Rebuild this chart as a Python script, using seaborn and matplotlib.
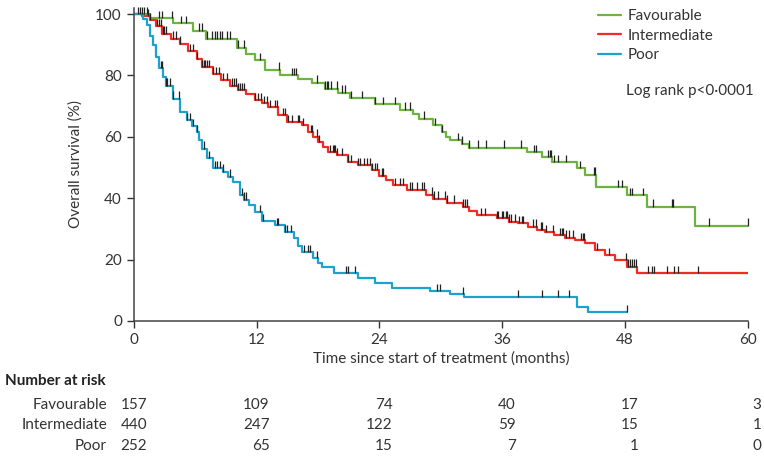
import numpy as np
import pandas as pd
import seaborn as sns
import matplotlib.pyplot as plt

# Kaplan-Meier step points (months, % surviving)
fav_time = [0, 1.6, 3.8, 5.8, 7.1, 10.1, 11.0, 11.8, 12.8, 14.3, 16.0, 17.4, 18.7, 20.0,
            21.1, 23.6, 26.0, 27.3, 27.9, 29.2, 30.1, 30.5, 30.9, 32.1, 32.8, 38.4, 39.9,
            40.9, 43.3, 44.1, 45.2, 48.2, 50.1, 54.8, 60]
fav_surv = [100, 98.7, 97.1, 94.6, 92, 89, 87, 85, 81.9, 80, 78.7, 77.6, 75.7, 74.4,
            72.6, 70.6, 68.8, 67.5, 65.9, 63.7, 61.5, 59.8, 58.9, 57.8, 56.5, 55.1, 53.4,
            51.8, 49.7, 47.7, 43.5, 41, 37.2, 31, 31]

int_time = [0, 0.8, 1.6, 2.2, 2.8, 3.6, 4.5, 5.3, 6.2, 6.7, 7.7, 8.5, 9.4, 10.2, 11.0,
            11.8, 12.5, 13.1, 14.1, 15.0, 16.4, 17.0, 17.5, 18.0, 18.5, 19.0, 19.9, 20.9,
            21.9, 23.3, 24.0, 24.6, 25.3, 26.7, 28.6, 29.2, 30.6, 32.2, 32.8, 33.5, 35.5,
            36.7, 37.5, 38.5, 39.4, 40.2, 41.1, 42.1, 43.1, 44.1, 45.1, 46.0, 47.0, 48.2,
            49.2, 60]
int_surv = [100, 99.3, 98, 96, 93.6, 92, 90.3, 88, 85.4, 82.7, 80.5, 78.5, 76.7, 75.3, 74,
            71.9, 71, 69.7, 67, 64.8, 63.7, 61.6, 60, 58.3, 56.8, 55.1, 54, 51.8,
            50.7, 49.1, 47.3, 45.8, 44.2, 42.8, 41.2, 39.9, 38.6, 37.2, 35.8, 34.5, 33.4,
            32.3, 31.8, 30.7, 29.8, 29, 28, 27.1, 26.3, 25.3, 23.1, 21.5, 19.8, 17.7,
            15.5, 15.5]

poor_time = [0, 0.9, 1.3, 1.6, 1.9, 2.2, 2.5, 2.9, 3.2, 3.8, 4.5, 5.2, 5.7, 6.2, 6.4, 6.7,
             7.2, 7.7, 8.7, 9.2, 9.7, 10.4, 10.8, 11.3, 11.8, 12.5, 13.8, 14.8, 15.7, 16.0,
             16.4, 17.5, 18.0, 18.4, 19.6, 21.9, 23.6, 25.2, 28.9, 30.9, 32.3, 43.3, 44.4,
             48.2]
poor_surv = [100, 98.5, 96.4, 93, 89.9, 86, 82.3, 79.5, 76.7, 72.4, 68.1, 65.4, 63.5, 61.6,
             59, 56.2, 53, 49.7, 48.6, 47, 45.3, 41, 39.5, 37.7, 35.5, 32.5, 31.2, 29, 26.9,
             24.5, 22.5, 20.4, 19, 17.7, 15.5, 13.9, 12.3, 10.6, 9.8, 8.7, 7.7, 4.7, 2.8,
             2.8]

# censoring times (months)
fav_cens = [0.4, 0.6, 0.8, 1.0, 1.3, 2.5, 2.8, 3.7, 4.6, 5.1, 6.4, 6.7, 7.2, 7.6, 7.9,
            8.1, 8.4, 8.6, 9.1, 9.4, 10.2, 10.8, 12.3, 14.2, 15.5, 15.7, 15.9, 17.9, 18.7,
            18.9, 19.0, 19.3, 19.9, 20.3, 20.6, 21.2, 22.3, 23.6, 24.4, 25.5, 26.5, 27.0,
            28.4, 29.4, 30.1, 31.7, 32.1, 32.8, 33.6, 34.4, 36.2, 37.8, 39.1, 39.3, 40.5,
            40.7, 40.8, 41.1, 41.4, 42.2, 43.6, 45.0, 45.1, 47.3, 47.7, 48.5, 48.7, 49.7,
            50.7, 52.6, 52.7, 56.2, 60]
int_cens = [1.4, 1.6, 2.3, 2.5, 2.7, 2.9, 3.0, 3.2, 3.8, 4.1, 4.5, 5.5, 5.8, 6.2, 6.7,
            6.9, 7.0, 7.2, 7.4, 7.7, 8.0, 8.3, 8.7, 9.1, 9.6, 9.8, 10.0, 10.2, 10.4, 10.6,
            10.8, 11.8, 12.1, 12.4, 12.7, 13.0, 13.3, 13.8, 14.0, 14.6, 14.8, 15.1, 15.5,
            16.0, 16.1, 16.5, 17.3, 17.4, 17.9, 18.1, 19.2, 19.5, 19.6, 19.7, 19.9, 20.3,
            20.9, 21.2, 21.9, 22.1, 22.5, 22.8, 23.1, 23.3, 23.6, 23.8, 24.3, 24.4, 25.5,
            26.0, 26.3, 27.0, 27.2, 27.7, 28.2, 28.4, 29.1, 29.3, 29.7, 30.4, 30.6, 31.3,
            32.2, 32.4, 32.6, 33.9, 34.3, 35.5, 35.6, 36.0, 36.1, 36.4, 36.5, 36.7, 36.9,
            37.2, 37.6, 37.9, 38.0, 39.0, 39.3, 39.8, 39.9, 40.3, 41.0, 41.6, 41.8, 41.9,
            42.2, 42.5, 42.9, 43.7, 43.9, 44.0, 45.3, 46.4, 48.1, 48.3, 48.5, 48.7, 48.9,
            49.1, 50.2, 50.6, 50.8, 52.1, 52.8, 53.2, 55.1]
poor_cens = [2.7, 2.8, 3.2, 3.3, 3.5, 3.8, 4.4, 5.2, 5.5, 5.8, 6.2, 6.9, 7.4, 7.9, 8.1,
             8.4, 8.7, 9.4, 10.6, 10.8, 11.0, 12.3, 12.6, 14.0, 14.1, 14.8, 15.0, 15.4,
             16.6, 17.0, 17.2, 17.9, 20.7, 20.9, 21.6, 29.6, 29.9, 32.2, 37.5, 39.9, 41.4,
             42.5, 48.2]

groups = ['Favourable', 'Intermediate', 'Poor']
colors = ['#6cb33f', '#ee2d24', '#1ca2cc']
risk_times = [0, 12, 24, 36, 48, 60]
risk_fav = [157, 109, 74, 40, 17, 3]
risk_int = [440, 247, 122, 59, 15, 1]
risk_poor = [252, 65, 15, 7, 1, 0]

sns.set_style('ticks')
plt.rcParams['font.family'] = ['Lato', 'DejaVu Sans']
fs = 11
txt = '#333333'

df = pd.concat([
    pd.DataFrame({'time': fav_time, 'surv': fav_surv, 'group': groups[0]}),
    pd.DataFrame({'time': int_time, 'surv': int_surv, 'group': groups[1]}),
    pd.DataFrame({'time': poor_time, 'surv': poor_surv, 'group': groups[2]}),
], ignore_index=True)

fig = plt.figure(figsize=(7.64, 4.59), dpi=100)
ax = fig.add_axes([0.175, 0.3007, 0.804, 0.682])

sns.lineplot(data=df, x='time', y='surv', hue='group', hue_order=groups,
             palette=colors, drawstyle='steps-post', estimator=None, sort=False,
             linewidth=1.6, ax=ax)

# censor marks sit on the curve and point upwards
for t_arr, s_arr, cens in [(fav_time, fav_surv, fav_cens),
                           (int_time, int_surv, int_cens),
                           (poor_time, poor_surv, poor_cens)]:
    t_arr = np.array(t_arr)
    s_arr = np.array(s_arr)
    c = np.array(cens)
    idx = np.searchsorted(t_arr, c, side='right') - 1
    s = s_arr[np.clip(idx, 0, len(s_arr) - 1)]
    ax.vlines(c, s, s + 2.4, color='#222222', linewidth=0.9, clip_on=False, zorder=3)

ax.set_xlim(0, 60)
ax.set_ylim(0, 102)
ax.set_xticks(risk_times)
ax.set_yticks([0, 20, 40, 60, 80, 100])
ax.tick_params(colors=txt, labelsize=fs, length=5, width=1, direction='out')
for sp in ['top', 'right']:
    ax.spines[sp].set_visible(False)
for sp in ['left', 'bottom']:
    ax.spines[sp].set_color('#444444')
    ax.spines[sp].set_linewidth(1.1)
ax.set_xlabel('Time since start of treatment (months)', color=txt, fontsize=fs, labelpad=3)
ax.set_ylabel('Overall survival (%)', color=txt, fontsize=fs, labelpad=9)

sns.move_legend(ax, 'upper left', bbox_to_anchor=(0.733, 1.04), frameon=False,
                title=None, fontsize=fs, handlelength=1.5, handletextpad=0.45,
                labelspacing=0.35)
for t in ax.get_legend().get_texts():
    t.set_color(txt)

ax.text(0.801, 0.735, 'Log rank p<0\u00b70001', transform=ax.transAxes, color=txt,
        fontsize=fs, ha='left', va='center')

# number at risk table
tr = ax.get_xaxis_transform()
ax.text(-12.6, -0.192, 'Number at risk', transform=tr, fontweight='bold', color='#222222',
        fontsize=fs, ha='left', va='center', clip_on=False)
for name, vals, yy in [('Favourable', risk_fav, -0.268),
                       ('Intermediate', risk_int, -0.332),
                       ('Poor', risk_poor, -0.399)]:
    ax.text(-2.6, yy, name, transform=tr, color=txt, fontsize=fs, ha='right', va='center')
    for t, v in zip(risk_times, vals):
        ax.text(t + 1.3, yy, str(v), transform=tr, color=txt, fontsize=fs,
                ha='right', va='center')

fig.savefig('out.png', dpi=100)
